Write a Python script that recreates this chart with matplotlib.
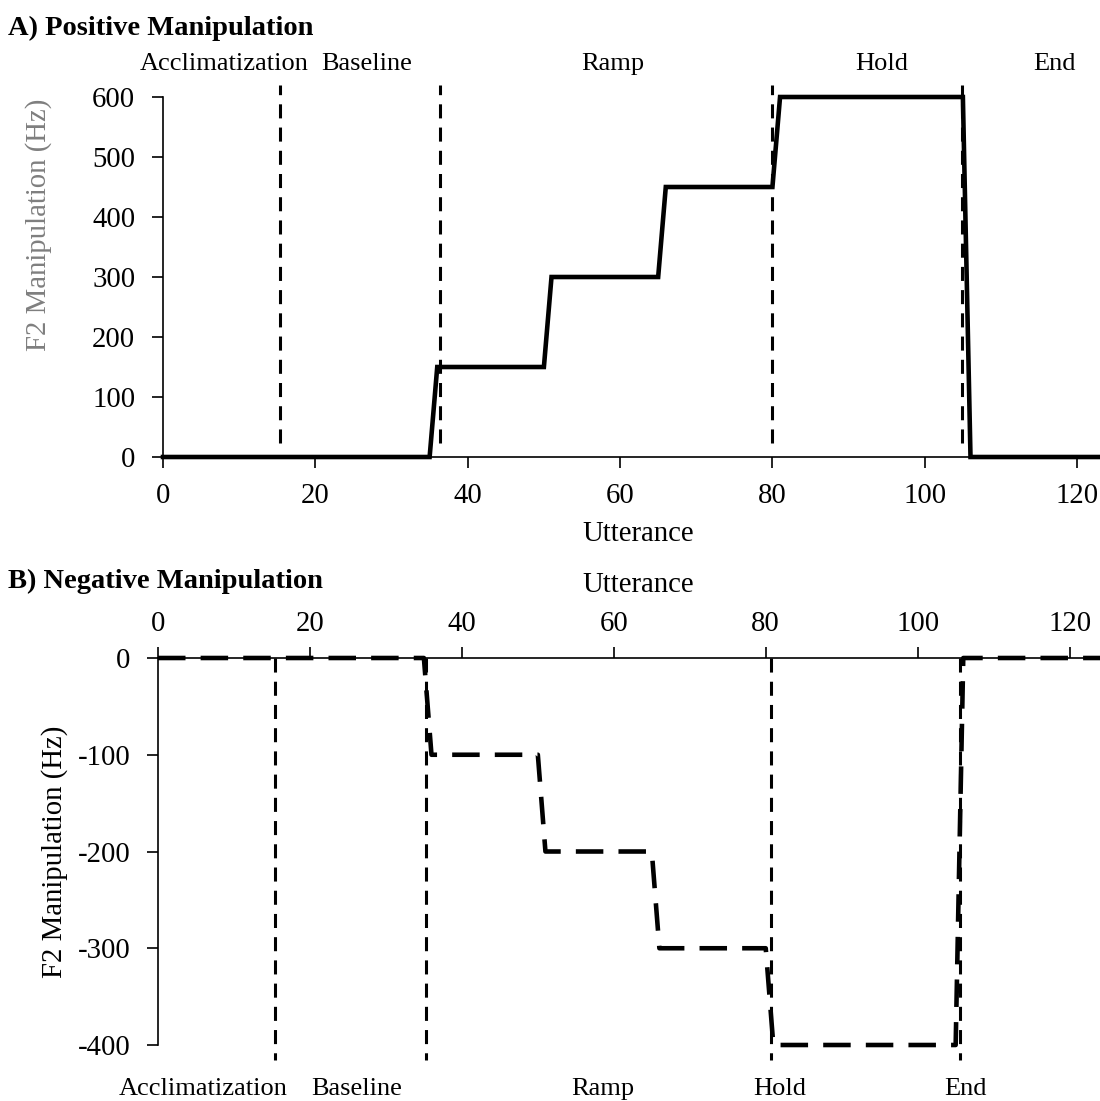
import matplotlib.pyplot as plt

plt.rcParams['font.family'] = ['Liberation Serif', 'DejaVu Serif']
plt.rcParams['axes.unicode_minus'] = False

# corner points of the manipulation schedule (utterance, Hz)
utt_points = [0, 35, 36, 50, 51, 65, 66, 80, 81, 105, 106, 125]
positive_hz = [0, 0, 150, 150, 300, 300, 450, 450, 600, 600, 0, 0]
negative_hz = [0, 0, -100, -100, -200, -200, -300, -300, -400, -400, 0, 0]

phase_names = ['Acclimatization', 'Baseline', 'Ramp', 'Hold', 'End']
# phase boundaries and label centres, as placed on each panel
pos_bounds = [15.4, 36.3, 80.0, 104.9]
pos_label_x = [8.0, 26.7, 59.0, 94.4, 117.0]
neg_bounds = [15.4, 35.3, 80.7, 105.6]
neg_label_x = [5.9, 26.2, 58.5, 81.8, 106.3]

xticks = [0, 20, 40, 60, 80, 100, 120]
pos_yticks = [0, 100, 200, 300, 400, 500, 600]
neg_yticks = [0, -100, -200, -300, -400]

FS = 20.7
fig = plt.figure(figsize=(11, 11.01), dpi=100)
W, H = 1100, 1101

# ---- A) positive manipulation ----
top_px, bot_px = 97, 457
ax1 = fig.add_axes([163 / W, (H - bot_px) / H, (W - 163) / W, (bot_px - top_px) / H])
ax1.plot(utt_points, positive_hz, color='black', lw=3.3, clip_on=False,
         solid_joinstyle='miter')
for b in pos_bounds:
    ax1.plot([b, b], [23, 620], color='black', lw=2.2, dashes=(4.6, 3.0), clip_on=False)
ax1.set_xlim(0, 123)
ax1.set_ylim(0, 600)
ax1.set_xticks(xticks)
ax1.set_yticks(pos_yticks)
for s in ['top', 'right']:
    ax1.spines[s].set_visible(False)
for s in ['left', 'bottom']:
    ax1.spines[s].set_linewidth(1.2)
ax1.tick_params(direction='out', length=8, width=1.2, labelsize=FS)
ax1.tick_params(axis='x', pad=11)
ax1.tick_params(axis='y', pad=12)
ax1.set_xlabel('Utterance', fontsize=FS, va='baseline')
ax1.xaxis.set_label_coords((638 - 163) / 937, (bot_px - 541) / (bot_px - top_px))
ax1.set_ylabel('F2 Manipulation (Hz)', fontsize=FS, color='#7f7f7f')
ax1.yaxis.set_label_coords((52 - 163) / 937, (bot_px - 225) / (bot_px - top_px))
for name, lx in zip(phase_names, pos_label_x):
    ax1.text(lx, 645, name, ha='center', va='baseline', fontsize=19, clip_on=False)
fig.text(8 / W, (H - 35) / H, 'A) Positive Manipulation', fontsize=20.5,
         fontweight='bold', ha='left', va='baseline')

# ---- B) negative manipulation ----
top_px, bot_px = 658, 1045
ax2 = fig.add_axes([158 / W, (H - bot_px) / H, (W - 158) / W, (bot_px - top_px) / H])
ax2.plot(utt_points, negative_hz, color='black', lw=3.3, dashes=(6, 3.3), clip_on=False)
for b in neg_bounds:
    ax2.plot([b, b], [0, -415], color='black', lw=2.2, dashes=(4.6, 3.0), clip_on=False)
ax2.set_xlim(0, 124)
ax2.set_ylim(-400, 0)
ax2.set_xticks(xticks)
ax2.set_yticks(neg_yticks)
ax2.xaxis.tick_top()
ax2.xaxis.set_label_position('top')
for s in ['bottom', 'right']:
    ax2.spines[s].set_visible(False)
for s in ['left', 'top']:
    ax2.spines[s].set_linewidth(1.2)
ax2.tick_params(direction='out', length=8, width=1.2, labelsize=FS)
ax2.tick_params(axis='x', pad=7)
ax2.tick_params(axis='y', pad=12)
ax2.set_xlabel('Utterance', fontsize=FS, va='baseline')
ax2.xaxis.set_label_coords((638 - 158) / 942, 1 + (658 - 592) / (bot_px - top_px))
ax2.set_ylabel('F2 Manipulation (Hz)', fontsize=FS, color='black')
ax2.yaxis.set_label_coords((68 - 158) / 942, 0.5)
for name, lx in zip(phase_names, neg_label_x):
    ax2.text(lx, -451.7, name, ha='center', va='baseline', fontsize=19, clip_on=False)
fig.text(8 / W, (H - 588) / H, 'B) Negative Manipulation', fontsize=20.5,
         fontweight='bold', ha='left', va='baseline')

fig.savefig('out.png', dpi=100)
